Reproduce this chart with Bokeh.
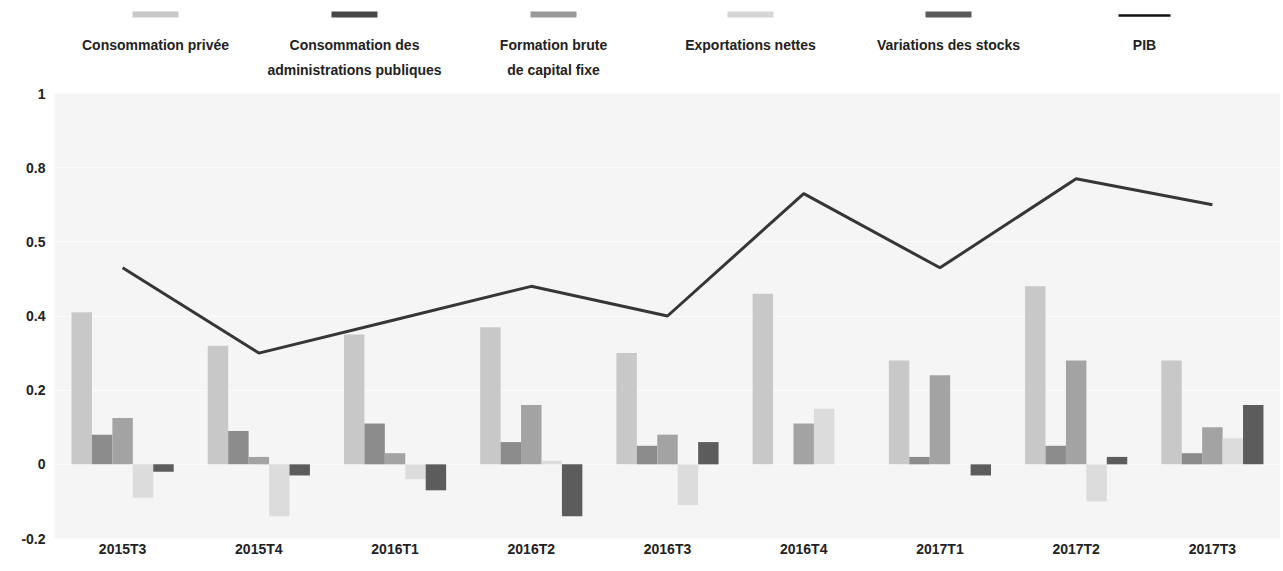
from bokeh.plotting import figure
from bokeh.models import FactorRange, FixedTicker, Range1d, ColumnDataSource
from bokeh.transform import dodge
from bokeh.layouts import column
from bokeh.embed import file_html
from bokeh.resources import INLINE
from bokeh.core.properties import value

# ---------------- data ----------------
quarters = ["2015T3", "2015T4", "2016T1", "2016T2", "2016T3",
            "2016T4", "2017T1", "2017T2", "2017T3"]
conso_privee = [0.41, 0.32, 0.35, 0.37, 0.30, 0.46, 0.28, 0.48, 0.28]
conso_admin = [0.08, 0.09, 0.11, 0.06, 0.05, 0.00, 0.02, 0.05, 0.03]
fbcf = [0.125, 0.02, 0.03, 0.16, 0.08, 0.11, 0.24, 0.28, 0.10]
export_nettes = [-0.09, -0.14, -0.04, 0.01, -0.11, 0.15, 0.00, -0.10, 0.07]
var_stocks = [-0.02, -0.03, -0.07, -0.14, 0.06, 0.00, -0.03, 0.02, 0.16]
pib = [0.53, 0.30, 0.39, 0.48, 0.40, 0.73, 0.53, 0.77, 0.70]

series_labels = ["Consommation privée",
                 "Consommation des\nadministrations publiques",
                 "Formation brute\nde capital fixe",
                 "Exportations nettes",
                 "Variations des stocks",
                 "PIB"]
y_ticks = [-0.2, 0, 0.2, 0.4, 0.6, 0.8, 1.0]
y_tick_labels = ["-0.2", "0", "0.2", "0.4", "0.5", "0.8", "1"]

# ---------------- styles ----------------
bar_colors = ["#c8c8c8", "#8c8c8c", "#a3a3a3", "#dcdcdc", "#5c5c5c"]
legend_colors = ["#c8c8c8", "#474747", "#9a9a9a", "#d6d6d6", "#5a5a5a"]
line_color = "#363636"
FONT = "Liberation Sans"
TXT = "#222222"

W = 1280
LEFT = 54
RIGHT = 0
LEG_H = 80
MAIN_H = 483

src = ColumnDataSource(dict(q=quarters, a=conso_privee, b=conso_admin, c=fbcf,
                            d=export_nettes, e=var_stocks, pib=pib))

p = figure(width=W, height=MAIN_H, x_range=FactorRange(factors=quarters),
           y_range=Range1d(-0.2, 1.0), output_backend="svg",
           toolbar_location=None, min_border_left=LEFT, min_border_right=RIGHT,
           min_border_top=13, min_border_bottom=25)
p.background_fill_color = "#f5f5f5"
p.border_fill_color = "white"
p.outline_line_color = None

offsets = [-0.30, -0.15, 0.0, 0.15, 0.30]
for col, off, colr in zip(["a", "b", "c", "d", "e"], offsets, bar_colors):
    p.vbar(x=dodge("q", off, range=p.x_range), top=col, bottom=0, width=0.15,
           source=src, fill_color=colr, line_color=None)

p.line(x="q", y="pib", source=src, line_color=line_color, line_width=3)

p.xgrid.grid_line_color = None
p.ygrid.grid_line_color = "#fbfbfb"
p.ygrid.ticker = FixedTicker(ticks=y_ticks)

p.yaxis.ticker = FixedTicker(ticks=y_ticks)
p.yaxis.major_label_overrides = {t: l for t, l in zip(y_ticks, y_tick_labels)}
for ax in (p.xaxis[0], p.yaxis[0]):
    ax.axis_line_color = None
    ax.major_tick_line_color = None
    ax.minor_tick_line_color = None
    ax.major_tick_out = 0
    ax.major_tick_in = 0
    ax.major_label_text_font = FONT
    ax.major_label_text_font_size = "14px"
    ax.major_label_text_font_style = "bold"
    ax.major_label_text_color = TXT
p.yaxis.major_label_standoff = 9
p.xaxis.major_label_standoff = 2

# ---------------- legend strip (same frame as main plot) ----------------
leg = figure(width=W, height=LEG_H, x_range=Range1d(LEFT, W - RIGHT),
             y_range=Range1d(LEG_H, 0), output_backend="svg",
             toolbar_location=None, min_border_left=LEFT,
             min_border_right=RIGHT, min_border_top=0, min_border_bottom=0)
leg.axis.visible = False
leg.grid.grid_line_color = None
leg.outline_line_color = None
leg.background_fill_color = "white"
leg.border_fill_color = "white"

centers = [155, 354, 553, 750, 948, 1144]
leg.rect(x=centers[:5], y=[14] * 5, width=46, height=6, fill_color=legend_colors,
         line_color=None)
leg.segment(x0=[centers[5] - 26], y0=[15], x1=[centers[5] + 26], y1=[15],
            line_color="#111111", line_width=2.5)
leg.text(x=centers, y=[36] * 6, text=series_labels, text_align="center",
         text_baseline="top", text_font=value(FONT), text_font_size="14px",
         text_font_style="bold", text_color=TXT, text_line_height=1.6)

layout = column(leg, p, spacing=0)
open("out.html", "w").write(file_html(layout, INLINE))
